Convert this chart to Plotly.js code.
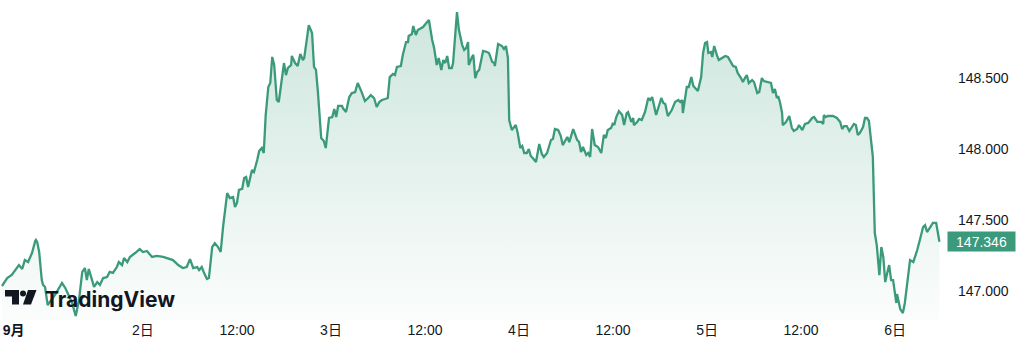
<!DOCTYPE html>
<html>
<head>
<meta charset="utf-8">
<script src="https://cdn.plot.ly/plotly-3.0.1.min.js"></script>
<style>
  html, body { margin: 0; padding: 0; background: #ffffff; }
  #chart { width: 1024px; height: 362px; }
</style>
</head>
<body>
<div id="chart"></div>
<script>
// USD/JPY, 5 days, JST
const sep1Times = ["06:00","06:40","07:15","07:55","08:10","08:35","08:55","09:20","09:35","09:50","10:15","10:20","10:30","10:45","11:05","11:15","11:30","11:50","12:45","13:40","14:05","14:20","14:55","15:25","15:50","16:15","16:35","16:50","17:05","17:30","17:45","18:10","18:30","18:55","19:25","19:45","20:10","20:40","20:55","21:20","21:35","22:00","22:20","23:00","23:35"];
const sep1Prices = [147.034,147.090,147.112,147.168,147.182,147.154,147.217,147.203,147.239,147.267,147.352,147.359,147.344,147.274,147.076,147.041,147.027,146.900,146.970,147.055,147.020,146.991,146.921,146.822,146.935,147.133,147.161,147.076,147.154,147.076,147.027,147.062,147.041,147.090,147.097,147.133,147.126,147.168,147.203,147.182,147.232,147.203,147.239,147.267,147.295];

const sep2Times = ["00:00","00:30","01:10","01:45","02:35","03:50","04:30","05:05","05:35","06:00","06:25","06:55","07:10","07:30","07:45","08:10","08:25","08:50","09:10","09:35","09:55","10:15","10:45","11:05","11:30","11:45","12:00","12:15","12:40","12:55","13:10","13:25","13:55","14:10","14:35","14:50","15:10","15:25","15:40","16:00","16:15","16:30","16:45","17:05","17:20","17:45","18:00","18:15","18:30","18:55","19:00","19:25","19:45","20:05","20:25","20:35","20:55","21:10","21:35","21:50","22:05","22:20","22:45","23:05","23:20","23:45"];
const sep2Prices = [147.274,147.281,147.239,147.246,147.239,147.217,147.182,147.161,147.168,147.224,147.161,147.168,147.147,147.168,147.133,147.083,147.090,147.309,147.337,147.309,147.274,147.464,147.690,147.655,147.662,147.592,147.620,147.712,147.719,147.796,147.803,147.733,147.853,147.839,147.923,147.987,148.008,147.973,148.241,148.439,148.467,148.651,148.594,148.347,148.333,148.509,148.608,148.523,148.573,148.594,148.658,148.608,148.587,148.672,148.629,148.644,148.785,148.876,148.820,148.580,148.559,148.403,148.079,148.058,148.008,148.220];

const sep3Times = ["00:10","00:25","00:40","00:55","01:25","01:30","01:55","02:20","02:40","03:05","03:20","03:25","03:55","04:20","04:45","05:05","05:30","05:50","06:10","06:30","06:55","07:15","07:30","07:55","08:10","08:25","08:55","09:10","09:35","09:50","09:55","10:20","10:30","10:50","11:05","11:20","11:45","12:10","12:30","12:55","13:10","13:30","13:45","14:05","14:20","14:35","14:50","15:05","15:25","15:35","16:05","16:20","16:45","17:00","17:15","17:30","17:35","18:00","18:10","18:25","18:40","18:55","19:25","19:55","20:10","20:35","20:50","20:55","21:20","21:50","22:05","22:20","22:35","22:45","23:05","23:35","23:50"];
const sep3Prices = [148.227,148.283,148.227,148.305,148.305,148.291,148.262,148.368,148.396,148.403,148.453,148.467,148.403,148.340,148.361,148.382,148.361,148.298,148.333,148.347,148.354,148.361,148.509,148.531,148.523,148.580,148.587,148.665,148.756,148.756,148.799,148.813,148.869,148.806,148.841,148.848,148.862,148.891,148.912,148.771,148.714,148.594,148.644,148.559,148.629,148.608,148.658,148.573,148.573,148.608,148.968,148.841,148.735,148.700,148.714,148.756,148.594,148.651,148.665,148.502,148.545,148.559,148.693,148.686,148.679,148.615,148.608,148.587,148.742,148.728,148.707,148.728,148.644,148.206,148.135,148.170,148.114];

const sep4Times = ["00:10","00:25","00:40","01:00","01:15","01:30","01:45","02:10","02:35","02:55","03:10","03:35","04:05","04:20","04:35","05:00","05:20","05:35","06:10","06:25","06:55","07:25","07:40","07:55","08:10","08:35","08:50","09:05","09:20","09:40","10:05","10:30","10:50","11:05","11:20","11:45","12:00","12:10","12:25","12:45","13:10","13:25","13:45","13:55","14:20","14:35","14:40","15:05","15:20","15:40","16:05","16:30","16:45","17:00","17:30","17:45","18:10","18:25","18:40","19:00","19:15","19:30","19:55","20:20","20:35","20:50","20:55","21:25","21:40","22:00","22:15","22:30","22:50","23:15","23:30","23:45"];
const sep4Prices = [148.008,148.022,147.973,147.973,148.001,147.952,147.938,147.909,148.036,147.966,147.945,147.973,148.065,148.072,148.142,148.135,148.093,148.029,148.086,148.050,148.142,148.065,148.050,147.980,148.015,147.959,147.973,147.945,148.142,148.029,148.015,147.973,148.100,148.079,148.135,148.149,148.185,148.170,148.227,148.269,148.241,148.170,148.255,148.262,148.192,148.220,148.170,148.192,148.213,148.206,148.262,148.361,148.347,148.368,148.241,148.291,148.361,148.326,148.319,148.234,148.255,148.276,148.333,148.347,148.333,148.347,148.255,148.439,148.439,148.509,148.446,148.432,148.411,148.509,148.679,148.749];

const sep5Times = ["00:00","00:10","00:30","00:40","00:55","01:15","01:30","01:55","02:20","02:40","03:05","03:20","03:40","03:55","04:20","04:35","04:50","05:05","05:20","05:45","06:00","06:25","06:40","07:00","07:15","07:45","08:10","08:25","08:40","08:55","09:05","09:20","09:35","09:40","10:05","10:30","10:50","11:05","11:30","11:45","12:10","12:30","12:55","13:25","13:40","14:05","14:35","14:50","14:55","15:10","15:25","16:05","16:35","17:00","17:15","17:30","17:50","18:10","18:30","18:45","19:00","19:15","19:30","19:55","20:10","20:25","20:40","21:05","21:10","21:25","21:40","22:00","22:15","22:30","22:45","23:00","23:15","23:30","23:45"];
const sep5Prices = [148.756,148.679,148.686,148.651,148.728,148.665,148.629,148.644,148.658,148.651,148.615,148.587,148.580,148.538,148.502,148.474,148.502,148.523,148.467,148.488,148.474,148.396,148.403,148.502,148.481,148.474,148.467,148.396,148.425,148.361,148.375,148.326,148.255,148.170,148.192,148.234,148.149,148.128,148.142,148.170,148.135,148.178,148.185,148.220,148.227,148.192,148.192,148.178,148.241,148.227,148.234,148.234,148.220,148.192,148.142,148.163,148.163,148.128,148.156,148.178,148.170,148.100,148.114,148.156,148.220,148.220,148.199,148.008,147.945,147.408,147.323,147.111,147.309,147.239,147.062,147.126,147.182,147.076,147.076];

const sep6Times = ["00:10","00:15","00:40","01:00","01:15","01:30","01:55","02:20","02:35","02:50","03:10","03:35","03:50","04:05","04:30","04:50","05:15","05:40"];
const sep6Prices = [146.914,146.977,146.871,146.843,146.914,147.027,147.217,147.203,147.239,147.288,147.359,147.450,147.464,147.415,147.450,147.479,147.479,147.346];

const lastPrice = "147.346";

const xTickVals = ["2025-09-01 07:30","2025-09-02 00:00","2025-09-02 12:00","2025-09-03 00:00","2025-09-03 12:00","2025-09-04 00:00","2025-09-04 12:00","2025-09-05 00:00","2025-09-05 12:00","2025-09-06 00:00"];
const xTickText = ["<b>9月</b>","2日","12:00","3日","12:00","4日","12:00","5日","12:00","6日"];
const yTickVals = [147.0, 147.5, 148.0, 148.5];
const yTickText = ["147.000","147.500","148.000","148.500"];

const days = [
  ["2025-09-01", sep1Times, sep1Prices],
  ["2025-09-02", sep2Times, sep2Prices],
  ["2025-09-03", sep3Times, sep3Prices],
  ["2025-09-04", sep4Times, sep4Prices],
  ["2025-09-05", sep5Times, sep5Prices],
  ["2025-09-06", sep6Times, sep6Prices]
];
const xs = [], ys = [];
days.forEach(([d, t, p]) => { t.forEach((hm, i) => { xs.push(d + " " + hm); ys.push(p[i]); }); });

const lineColor = "#3a9a7b";
const font = "'Liberation Sans', 'Noto Sans CJK JP', sans-serif";

// pixel helpers for the watermark (plot area 944 x 320)
const PW = 944, PH = 320;
const px = v => v / PW, py = v => (PH - v) / PH;

const trace = {
  x: xs, y: ys, type: "scatter", mode: "lines",
  line: { color: lineColor, width: 2.3 },
  fill: "tozeroy",
  fillgradient: {
    type: "vertical", start: 146.8, stop: 148.95,
    colorscale: [[0, "rgba(58,154,123,0.02)"], [1, "rgba(58,154,123,0.25)"]]
  },
  hoverinfo: "skip"
};

const layout = {
  width: 1024, height: 362,
  margin: { l: 0, r: 80, t: 0, b: 42, pad: 0 },
  paper_bgcolor: "#ffffff", plot_bgcolor: "#ffffff",
  showlegend: false,
  font: { family: font, color: "#131722", size: 14 },
  xaxis: {
    type: "date",
    range: ["2025-09-01 05:45", "2025-09-06 06:15"],
    tickmode: "array", tickvals: xTickVals, ticktext: xTickText,
    showgrid: false, zeroline: false, showline: false, ticks: "",
    tickfont: { family: font, size: 14, color: "#131722" },
    fixedrange: true
  },
  yaxis: {
    side: "right",
    range: [146.794, 149.053],
    tickmode: "array", tickvals: yTickVals, ticktext: yTickText,
    showgrid: false, zeroline: false, showline: false, ticks: "",
    ticklabelstandoff: 13,
    tickfont: { family: font, size: 14, color: "#131722" },
    fixedrange: true
  },
  shapes: [
    { type: "rect", xref: "paper", yref: "paper", x0: px(5), x1: px(19), y0: py(296.5), y1: py(290), fillcolor: "#131722", line: { width: 0 }, layer: "above" },
    { type: "rect", xref: "paper", yref: "paper", x0: px(12), x1: px(19), y0: py(304.5), y1: py(290), fillcolor: "#131722", line: { width: 0 }, layer: "above" },
    { type: "circle", xref: "paper", yref: "paper", x0: px(20), x1: px(26), y0: py(296.5), y1: py(290.5), fillcolor: "#131722", line: { width: 0 }, layer: "above" },
    { type: "path", xref: "paper", yref: "paper",
      path: "M " + px(28) + " " + py(290) + " L " + px(36.5) + " " + py(290) + " L " + px(31) + " " + py(304.5) + " L " + px(23) + " " + py(304.5) + " Z",
      fillcolor: "#131722", line: { width: 0 }, layer: "above" }
  ],
  annotations: [
    { xref: "paper", yref: "y", x: 1, y: 147.346, xanchor: "left", yanchor: "middle", xshift: 3,
      text: lastPrice, showarrow: false, bgcolor: lineColor, borderpad: 1, width: 65, height: 17, align: "center",
      font: { family: font, size: 14, color: "#ffffff" } },
    { xref: "paper", yref: "paper", x: px(43), y: py(299), xanchor: "left", yanchor: "middle",
      text: "<b>TradingView</b>", showarrow: false,
      font: { family: "Inter, 'Open Sans', sans-serif", size: 21, color: "#131722" } }
  ]
};

Plotly.newPlot("chart", [trace], layout, { displayModeBar: false, staticPlot: true });
</script>
</body>
</html>
